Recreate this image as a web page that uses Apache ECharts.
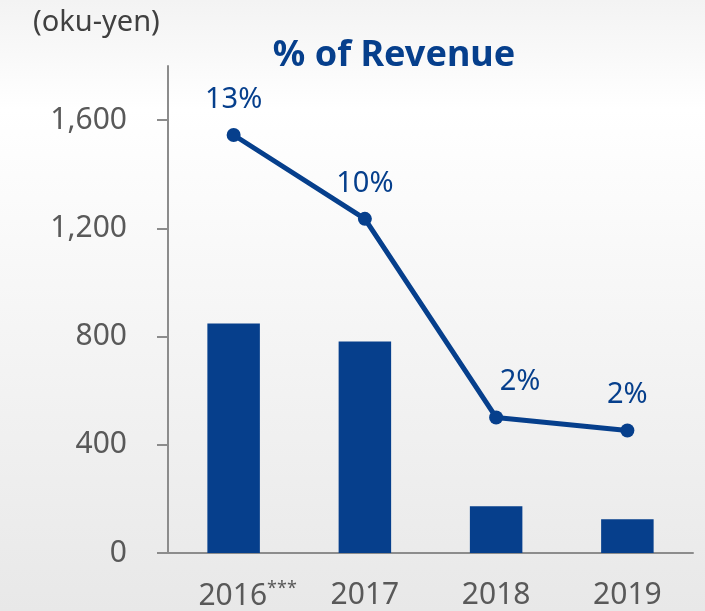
<!DOCTYPE html>
<html>
<head>
<meta charset="utf-8">
<script src="https://cdn.jsdelivr.net/npm/echarts@6/dist/echarts.min.js"></script>
<style>
  html, body { margin: 0; padding: 0; }
  #chart { width: 705px; height: 611px; }
</style>
</head>
<body>
<div id="chart"></div>
<script>
var years = ['2016', '2017', '2018', '2019'];
var amounts = [848, 782, 173, 125];      // bars, oku-yen
var ratioLine = [1545, 1235, 501, 453];   // % of revenue line, plotted on the same axis
var ratioLabels = ['13%', '10%', '2%', '2%'];
var yTicks = [0, 400, 800, 1200, 1600];

var blue = '#063f8c';
var font = 'Noto Sans';

var myChart = echarts.init(document.getElementById('chart'));

var option = {
    backgroundColor: new echarts.graphic.LinearGradient(0, 0, 0, 1, [
        { offset: 0, color: '#f3f3f3' },
        { offset: 0.18, color: '#ffffff' },
        { offset: 1, color: '#e8e8e8' }
    ]),
    animation: false,
    textStyle: { fontFamily: font },
    title: [{
        text: '(oku-yen)',
        left: 28, top: 3,
        textStyle: { fontSize: 29, fontWeight: 'normal', color: '#404040', fontFamily: font }
    }, {
        text: '% of Revenue',
        left: 389, top: 33, textAlign: 'center',
        textStyle: { fontSize: 36, fontWeight: 'bold', color: blue, fontFamily: font }
    }],
    grid: { left: 168, right: 12, top: 66, bottom: 57 },
    xAxis: {
        type: 'category',
        data: years,
        axisLine: { lineStyle: { color: '#8c8c8c', width: 2 } },
        axisTick: { show: false },
        axisLabel: {
            interval: 0,
            hideOverlap: false,
            margin: 27,
            fontSize: 30,
            color: '#595959',
            formatter: function (v) {
                return v === '2016' ? '{pad| }' + v + '{sup|***}' : v;
            },
            rich: {
                pad: { width: 28, fontSize: 30 },
                sup: { fontSize: 18, color: '#595959', verticalAlign: 'top', padding: [0, 0, 14, 0] }
            }
        }
    },
    yAxis: {
        type: 'value',
        min: 0, max: 1800,
        splitLine: { show: false },
        axisLine: { show: true, lineStyle: { color: '#8c8c8c', width: 2 } },
        axisTick: { show: true, length: 11, customValues: yTicks, lineStyle: { color: '#8c8c8c', width: 2 } },
        axisLabel: {
            customValues: yTicks,
            margin: 41,
            fontSize: 30,
            color: '#595959',
            formatter: function (v) { return v.toLocaleString('en-US'); }
        }
    },
    series: [{
        type: 'bar',
        data: amounts,
        barWidth: '40%',
        itemStyle: { color: blue }
    }, {
        type: 'line',
        data: ratioLine.map(function (v, i) {
            var d = { value: v };
            if (i === 2) d.label = { offset: [24, 0] };
            return d;
        }),
        symbol: 'circle',
        symbolSize: 14,
        lineStyle: { color: blue, width: 5 },
        itemStyle: { color: blue },
        label: {
            show: true,
            position: 'top',
            distance: 14,
            fontSize: 29,
            color: blue,
            formatter: function (p) { return ratioLabels[p.dataIndex]; }
        },
        z: 3
    }]
};

myChart.setOption(option, true);
</script>
</body>
</html>
